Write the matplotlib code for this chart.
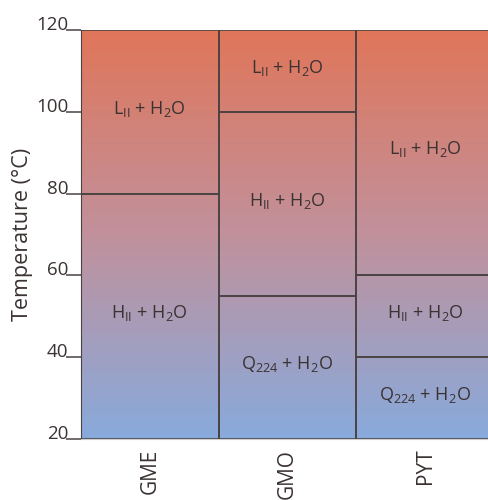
import numpy as np
import matplotlib.pyplot as plt
from matplotlib.colors import LinearSegmentedColormap

plt.rcParams['font.family'] = ['Open Sans', 'DejaVu Sans']
plt.rcParams['mathtext.fontset'] = 'custom'
plt.rcParams['mathtext.rm'] = 'Open Sans'
plt.rcParams['mathtext.it'] = 'Open Sans'

# phase regions per lipid: (column, bottom, top, label)
lipids = ["GME", "GMO", "PYT"]
col_idx = [0, 0, 1, 1, 1, 2, 2, 2]
lower = [20, 80, 20, 55, 100, 20, 40, 60]
upper = [80, 120, 55, 100, 120, 40, 60, 120]
phases = [r"H$_{\mathrm{II}}$ + H$_2$O", r"L$_{\mathrm{II}}$ + H$_2$O",
          r"Q$_{224}$ + H$_2$O", r"H$_{\mathrm{II}}$ + H$_2$O", r"L$_{\mathrm{II}}$ + H$_2$O",
          r"Q$_{224}$ + H$_2$O", r"H$_{\mathrm{II}}$ + H$_2$O", r"L$_{\mathrm{II}}$ + H$_2$O"]
yticks = [20, 40, 60, 80, 100, 120]

ink = "#3b3232"
edge = "#4a4242"

fig = plt.figure(figsize=(4.88, 5.0), dpi=100)
ax = fig.add_axes([0.166, 0.122, 0.846, 0.818])

# background gradient blue (cold) -> orange (hot)
cmap = LinearSegmentedColormap.from_list("temp", ["#88aadc", "#c1919c", "#e0765a"])
grad = np.linspace(0, 1, 256).reshape(-1, 1)
ax.imshow(grad, aspect="auto", cmap=cmap, origin="lower",
          extent=[-0.5, len(lipids) - 0.5, 20, 120], zorder=0)

ax.bar(col_idx, np.array(upper) - np.array(lower), bottom=lower, width=1.0,
       fill=False, edgecolor=edge, linewidth=1.2, zorder=2)

for c, lo, hi, lab in zip(col_idx, lower, upper, phases):
    ax.text(c, (lo + hi) / 2 + 0.8, lab, ha="center", va="center",
            fontsize=13, color=ink, zorder=3)

ax.set_xlim(-0.5, len(lipids) - 0.5)
ax.set_ylim(20, 120)
ax.set_yticks(yticks)
ax.set_xticks(range(len(lipids)))
ax.set_xticklabels(lipids, rotation=90, fontsize=15, color=ink, va="top")
ax.tick_params(axis="x", length=0, pad=7)
ax.tick_params(axis="y", length=11, width=1.1, color=edge, pad=-2,
               labelsize=13.5, labelcolor=ink)
for lbl in ax.get_yticklabels():
    lbl.set_verticalalignment("baseline")
    lbl.set_horizontalalignment("right")

for s in ["top", "right"]:
    ax.spines[s].set_visible(False)
ax.spines["left"].set_color(edge)
ax.spines["bottom"].set_color("#cfcfcf")
ax.set_ylabel("Temperature (°C)", fontsize=15.5, color=ink, labelpad=2)

fig.savefig("out.png", dpi=100)
